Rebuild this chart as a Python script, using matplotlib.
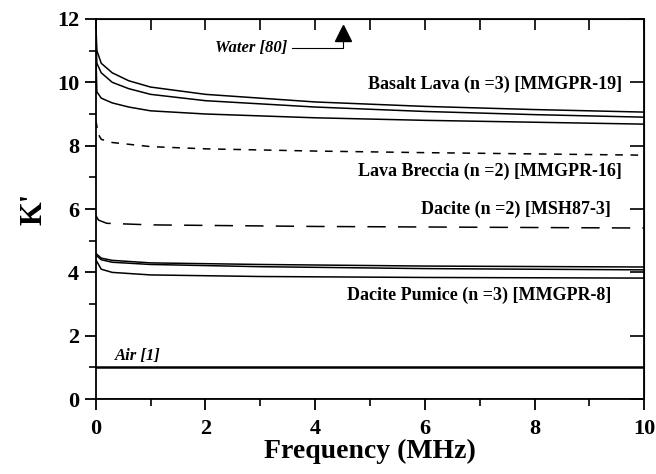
import matplotlib
matplotlib.use("Agg")
import matplotlib.pyplot as plt
from matplotlib.ticker import MultipleLocator

plt.rcParams["font.family"] = ["Liberation Serif", "DejaVu Serif"]
plt.rcParams["font.weight"] = "bold"

# frequency (MHz) and K' values
basalt_f = [0.0, 0.02, 0.1, 0.3, 0.6, 1, 2, 4, 6, 8, 10]
basalt_1 = [11.9, 11.0, 10.6, 10.3, 10.05, 9.85, 9.62, 9.38, 9.24, 9.14, 9.06]
basalt_2 = [11.5, 10.6, 10.3, 10.0, 9.8, 9.62, 9.42, 9.22, 9.08, 8.98, 8.9]
basalt_3 = [11.0, 9.7, 9.5, 9.35, 9.22, 9.1, 9.0, 8.88, 8.8, 8.74, 8.68]

breccia_f = [0.0, 0.05, 0.1, 0.3, 1, 2, 4, 6, 8, 10]
breccia = [8.8, 8.35, 8.2, 8.1, 7.97, 7.9, 7.83, 7.78, 7.74, 7.7]

dacite_f = [0.0, 0.05, 0.2, 1, 4, 10]
dacite = [5.8, 5.65, 5.55, 5.5, 5.45, 5.4]

pumice_f = [0.0, 0.1, 0.3, 1, 3, 6, 10]
pumice_1 = [4.6, 4.45, 4.38, 4.3, 4.25, 4.2, 4.17]
pumice_2 = [4.55, 4.4, 4.32, 4.25, 4.18, 4.12, 4.08]
pumice_3 = [4.4, 4.1, 4.0, 3.92, 3.87, 3.84, 3.82]

air_f = [0, 10]
air = [1, 1]

water_f = 4.5
water_k = 11.55

fig = plt.figure(figsize=(6.56, 4.74), dpi=100)
ax = fig.add_axes([0.146, 0.158, 0.836, 0.802])

for k in (basalt_1, basalt_2, basalt_3):
    ax.plot(basalt_f, k, color="black", lw=1.1)
for k in (pumice_1, pumice_2, pumice_3):
    ax.plot(pumice_f, k, color="black", lw=1.1)
ax.plot(breccia_f, breccia, color="black", lw=1.1, dashes=(5, 5))
ax.plot(dacite_f, dacite, color="black", lw=1.1, dashes=(12, 8))
ax.plot(air_f, air, color="black", lw=1.8)
ax.axhline(0, color="black", lw=1.8)

# water marker off the scale
ax.plot([water_f], [water_k], marker="^", color="black", ms=11)
ax.plot([3.58, water_f, water_f], [11.08, 11.08, 11.4], color="black", lw=0.8)
ax.text(3.5, 11.08, "Water [80]", ha="right", va="center", style="italic", fontsize=12)

ax.text(9.6, 9.95, "Basalt Lava (n =3) [MMGPR-19]", ha="right", va="center", fontsize=13)
ax.text(9.6, 7.2, "Lava Breccia (n =2) [MMGPR-16]", ha="right", va="center", fontsize=13)
ax.text(9.4, 6.0, "Dacite (n =2) [MSH87-3]", ha="right", va="center", fontsize=13)
ax.text(9.4, 3.28, "Dacite Pumice (n =3) [MMGPR-8]", ha="right", va="center", fontsize=13)
ax.text(0.35, 1.35, "Air [1]", ha="left", va="center", style="italic", fontsize=12)

ax.set_xlim(0, 10)
ax.set_ylim(0, 12)
ax.xaxis.set_major_locator(MultipleLocator(2))
ax.xaxis.set_minor_locator(MultipleLocator(1))
ax.yaxis.set_major_locator(MultipleLocator(2))
ax.yaxis.set_minor_locator(MultipleLocator(1))
ax.tick_params(which="major", direction="out", length=8, width=1.3, labelsize=16, pad=4)
ax.tick_params(axis="x", which="major", pad=6)
ax.tick_params(which="minor", direction="out", length=5, width=1.2)
for lab in ax.get_xticklabels() + ax.get_yticklabels():
    lab.set_fontweight("bold")
for s in ax.spines.values():
    s.set_linewidth(1.3)

top = ax.secondary_xaxis("top")
top.xaxis.set_major_locator(MultipleLocator(1))
top.tick_params(direction="in", length=8, width=1.2, labeltop=False)
right = ax.secondary_yaxis("right")
right.yaxis.set_major_locator(MultipleLocator(2))
right.tick_params(direction="in", length=10, width=1.2, labelright=False)

ax.set_xlabel("Frequency (MHz)", fontsize=20, fontweight="bold", labelpad=0)
ax.set_ylabel("K'", fontsize=22, fontweight="bold", labelpad=6)

fig.savefig("out.png", dpi=100)
